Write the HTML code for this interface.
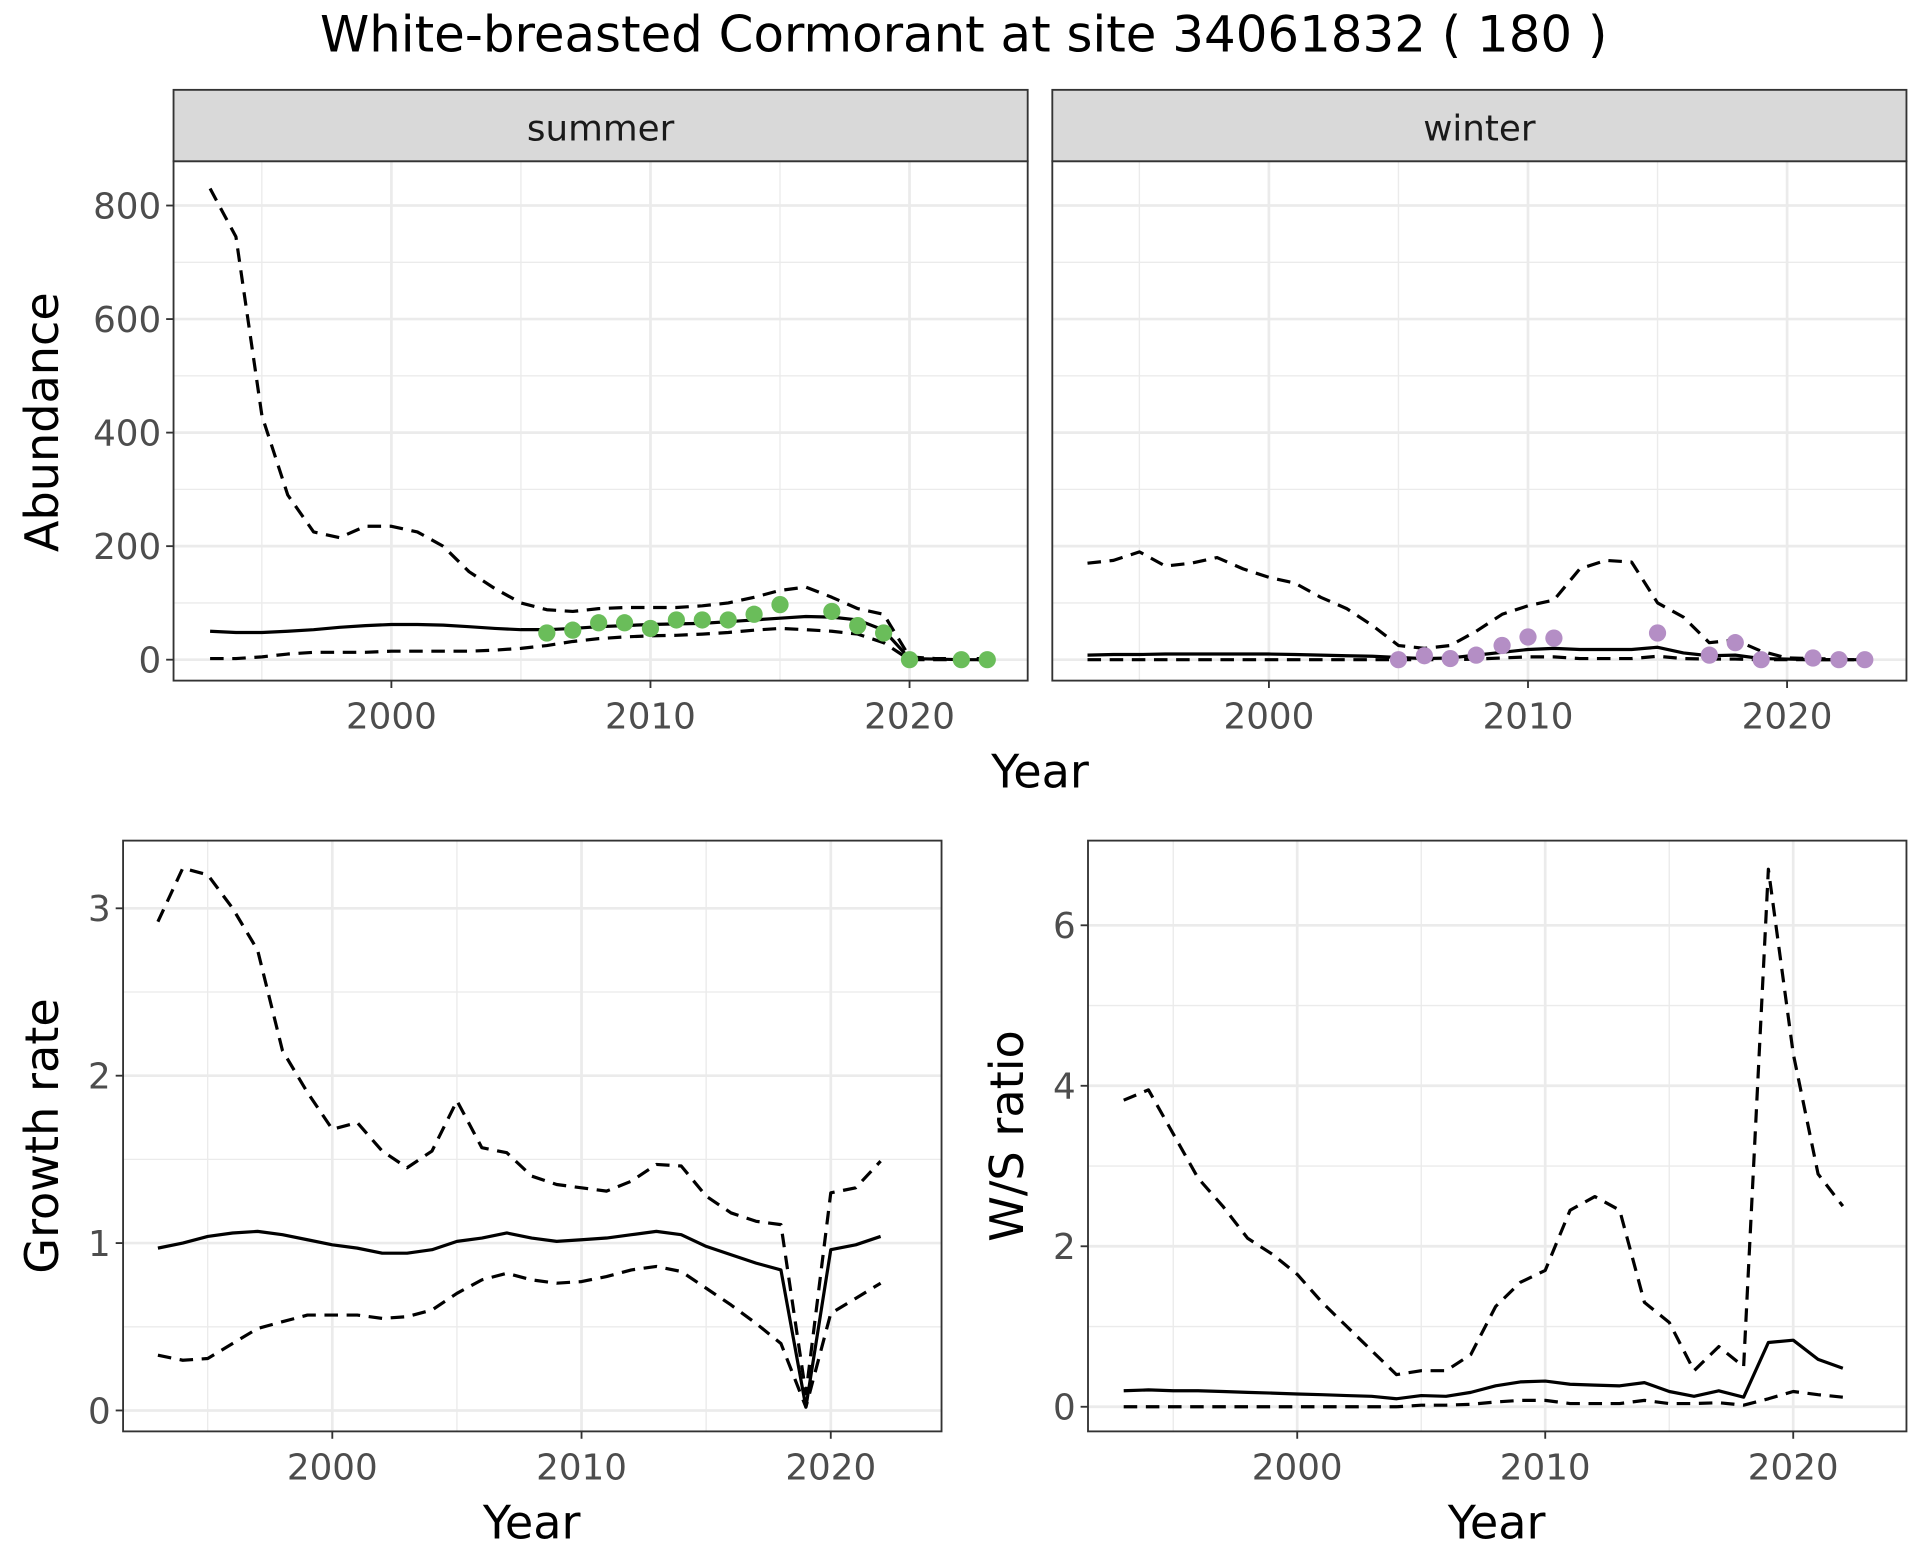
<!DOCTYPE html>
<html><head><meta charset="utf-8"><style>
html,body{margin:0;padding:0;background:#fff}
svg{display:block}
text{font-family:"DejaVu Sans","Liberation Sans",sans-serif}
</style></head><body>
<svg id="s" width="1920" height="1560" viewBox="0 0 1560 1267.5" preserveAspectRatio="none" xmlns="http://www.w3.org/2000/svg"></svg>
<script>
const S=document.getElementById('s');let h='';
function L(pts,dash,w){h+=`<polyline fill="none" stroke="#000" stroke-width="${w||2.6}" ${dash?'stroke-dasharray="11,7"':''} stroke-linejoin="round" points="${pts.map(p=>p[0].toFixed(1)+','+p[1].toFixed(1)).join(' ')}"/>`;}
function T(x,y,t,sz,fill,anchor,rot){h+=`<text x="${x}" y="${y}" font-size="${sz}" fill="${fill||'#000'}" text-anchor="${anchor||'middle'}" ${rot?`transform="rotate(-90 ${x} ${y})"`:''}>${t}</text>`;}
function panel(o){
 const {x0,x1,y0,y1,xf,yf,yt,yminor,xt,xminor,ylab}=o;
 h+=`<clipPath id="c${x0}${y0}"><rect x="${x0}" y="${y0}" width="${x1-x0}" height="${y1-y0}"/></clipPath>`;
 for(const v of yminor)h+=`<line x1="${x0}" x2="${x1}" y1="${yf(v)}" y2="${yf(v)}" stroke="#ebebeb" stroke-width="1.1"/>`;
 for(const v of xminor)h+=`<line y1="${y0}" y2="${y1}" x1="${xf(v)}" x2="${xf(v)}" stroke="#ebebeb" stroke-width="1.1"/>`;
 for(const v of yt)h+=`<line x1="${x0}" x2="${x1}" y1="${yf(v)}" y2="${yf(v)}" stroke="#ebebeb" stroke-width="2.2"/>`;
 for(const v of xt)h+=`<line y1="${y0}" y2="${y1}" x1="${xf(v)}" x2="${xf(v)}" stroke="#ebebeb" stroke-width="2.2"/>`;
 h+=`<g clip-path="url(#c${x0}${y0})">`;
 for(const s of o.series)L(s.d.map((v,i)=>[xf(o.start+i),yf(v)]),s.dash);
 if(o.pts)for(const p of o.pts)h+=`<circle cx="${xf(p[0])}" cy="${yf(p[1])}" r="7" fill="${o.pc}"/>`;
 h+=`</g><rect x="${x0}" y="${y0}" width="${x1-x0}" height="${y1-y0}" fill="none" stroke="#333" stroke-width="1.5"/>`;
 for(const v of xt){h+=`<line x1="${xf(v)}" x2="${xf(v)}" y1="${y1}" y2="${y1+6}" stroke="#333" stroke-width="1.5"/>`;T(xf(v),y1+39,v,29,'#4d4d4d');}
 if(ylab)for(const v of yt){h+=`<line x1="${x0-6}" x2="${x0}" y1="${yf(v)}" y2="${yf(v)}" stroke="#333" stroke-width="1.5"/>`;T(x0-10,yf(v)+10.5,v,29,'#4d4d4d','end');}
}
const ya=v=>536-v*0.46125;
const sU=[830,745,430,290,225,215,235,235,225,200,155,125,100,88,85,90,92,92,92,95,100,110,122,128,110,90,80,5,2,2,2];
const sM=[50,48,48,50,53,57,60,62,62,61,58,55,53,53,55,58,60,62,63,64,67,70,73,76,75,70,52,2,1,0,0];
const sL=[2,2,5,10,13,13,13,15,15,15,15,17,20,25,32,37,40,42,43,45,48,52,55,53,50,45,30,0,0,0,0];
panel({x0:141,x1:835,y0:131,y1:553,xf:y=>318+(y-2000)*21.05,yf:ya,yt:[0,200,400,600,800],yminor:[100,300,500,700],xt:[2000,2010,2020],xminor:[1995,2005,2015],ylab:1,start:1993,
 series:[{d:sU,dash:1},{d:sM},{d:sL,dash:1}],pc:'#6abd5a',
 pts:[[2006,47],[2007,52],[2008,65],[2009,65],[2010,55],[2011,70],[2012,70],[2013,70],[2014,80],[2015,97],[2017,85],[2018,60],[2019,47],[2020,0],[2022,0],[2023,0]]});
const wU=[170,175,190,165,170,180,160,145,135,110,90,60,25,20,25,50,80,95,105,160,175,172,100,75,30,35,15,3,2,1,1];
const wM=[8,9,9,10,10,10,10,10,9,8,7,6,4,2,3,8,13,18,20,18,18,18,22,12,7,8,2,1,0,0,0];
const wL=[0,0,0,0,0,0,0,0,0,0,0,0,0,0,0,1,3,5,5,2,2,2,6,2,1,1,0,0,0,0,0];
panel({x0:855,x1:1549,y0:131,y1:553,xf:y=>1031+(y-2000)*21.05,yf:ya,yt:[0,200,400,600,800],yminor:[100,300,500,700],xt:[2000,2010,2020],xminor:[1995,2005,2015],ylab:0,start:1993,
 series:[{d:wU,dash:1},{d:wM},{d:wL,dash:1}],pc:'#b48ec5',
 pts:[[2005,0],[2006,7],[2007,2],[2008,8],[2009,25],[2010,40],[2011,38],[2015,47],[2017,8],[2018,30],[2019,0],[2021,3],[2022,0],[2023,0]]});
h+=`<rect x="141" y="73" width="694" height="58" fill="#d9d9d9" stroke="#333" stroke-width="1.5"/><rect x="855" y="73" width="694" height="58" fill="#d9d9d9" stroke="#333" stroke-width="1.5"/>`;
T(488,114,'summer',29,'#1a1a1a');T(1202,114,'winter',29,'#1a1a1a');
const gM=[.97,1.0,1.04,1.06,1.07,1.05,1.02,.99,.97,.94,.94,.96,1.01,1.03,1.06,1.03,1.01,1.02,1.03,1.05,1.07,1.05,.98,.93,.88,.84,.02,.96,.99,1.04];
const gU=[2.92,3.24,3.2,3.0,2.75,2.15,1.9,1.68,1.72,1.55,1.45,1.55,1.85,1.57,1.54,1.4,1.35,1.33,1.31,1.37,1.47,1.46,1.28,1.18,1.13,1.11,.1,1.3,1.33,1.49];
const gL=[.33,.3,.31,.4,.49,.53,.57,.57,.57,.55,.56,.6,.7,.78,.82,.78,.76,.77,.8,.84,.86,.83,.73,.63,.52,.4,.02,.58,.67,.76];
panel({x0:100,x1:765,y0:683,y1:1163,xf:y=>270+(y-2000)*20.25,yf:v=>1146-v*136,yt:[0,1,2,3],yminor:[.5,1.5,2.5],xt:[2000,2010,2020],xminor:[1995,2005,2015],ylab:1,start:1993,
 series:[{d:gU,dash:1},{d:gM},{d:gL,dash:1}]});
const rM=[.2,.21,.2,.2,.19,.18,.17,.16,.15,.14,.13,.1,.14,.13,.18,.26,.31,.32,.28,.27,.26,.3,.19,.13,.2,.12,.8,.83,.59,.48];
const rU=[3.82,3.95,3.4,2.85,2.5,2.1,1.9,1.65,1.3,1.0,.7,.4,.45,.45,.65,1.25,1.55,1.7,2.45,2.62,2.45,1.3,1.05,.45,.75,.5,6.7,4.4,2.9,2.5];
const rL=[0,0,0,0,0,0,0,0,0,0,0,0,.02,.02,.03,.06,.08,.08,.04,.04,.04,.08,.04,.04,.05,.02,.1,.19,.15,.12];
panel({x0:884,x1:1549,y0:683,y1:1163,xf:y=>1054+(y-2000)*20.15,yf:v=>1143-v*65.2,yt:[0,2,4,6],yminor:[1,3,5],xt:[2000,2010,2020],xminor:[1995,2005,2015],ylab:1,start:1993,
 series:[{d:rU,dash:1},{d:rM},{d:rL,dash:1}]});
T(783,42,'White-breasted Cormorant at site 34061832 ( 180 )',40.5);
T(845,640,'Year',37.5);T(432,1250,'Year',37.5);T(1216,1250,'Year',37.5);
T(47,343,'Abundance',37.5,'#000','middle',1);T(47,923,'Growth rate',37.5,'#000','middle',1);T(831,923,'W/S ratio',37.5,'#000','middle',1);
S.innerHTML=h;
</script>
</body></html>
